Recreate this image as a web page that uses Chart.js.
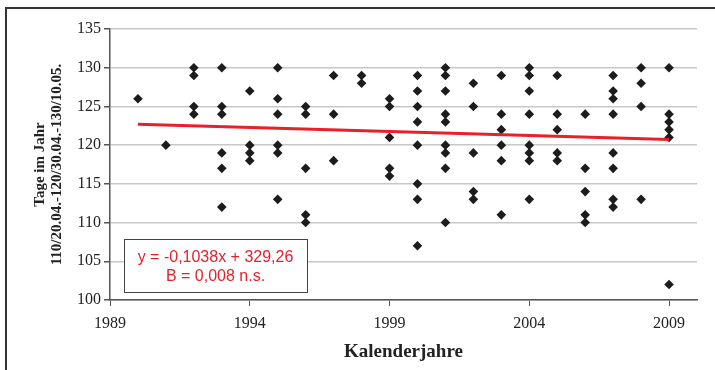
<!DOCTYPE html>
<html>
<head>
<meta charset="utf-8">
<script src="https://cdn.jsdelivr.net/npm/chart.js@4"></script>
<style>
  html, body { margin: 0; padding: 0; background: #fff; }
  #wrap { width: 715px; height: 370px; position: relative; }
</style>
</head>
<body>
<div id="wrap"><canvas id="chart" width="715" height="370"></canvas></div>
<script>
// observations: year, day number
const years = [
  1990,
  1991,
  1992, 1992, 1992, 1992,
  1993, 1993, 1993, 1993, 1993, 1993,
  1994, 1994, 1994, 1994,
  1995, 1995, 1995, 1995, 1995, 1995,
  1996, 1996, 1996, 1996, 1996,
  1997, 1997, 1997,
  1998, 1998,
  1999, 1999, 1999, 1999, 1999,
  2000, 2000, 2000, 2000, 2000, 2000, 2000, 2000,
  2001, 2001, 2001, 2001, 2001, 2001, 2001, 2001, 2001,
  2002, 2002, 2002, 2002, 2002,
  2003, 2003, 2003, 2003, 2003, 2003,
  2004, 2004, 2004, 2004, 2004, 2004, 2004, 2004,
  2005, 2005, 2005, 2005, 2005,
  2006, 2006, 2006, 2006, 2006,
  2007, 2007, 2007, 2007, 2007, 2007, 2007, 2007,
  2008, 2008, 2008, 2008,
  2009, 2009, 2009, 2009, 2009, 2009
];
const days = [
  126,
  120,
  130, 129, 125, 124,
  130, 125, 124, 119, 117, 112,
  127, 120, 119, 118,
  130, 126, 124, 120, 119, 113,
  125, 124, 117, 111, 110,
  129, 124, 118,
  129, 128,
  126, 125, 121, 117, 116,
  129, 127, 125, 123, 120, 115, 113, 107,
  130, 129, 127, 124, 123, 120, 119, 117, 110,
  128, 125, 119, 114, 113,
  129, 124, 122, 120, 118, 111,
  130, 129, 127, 124, 120, 119, 118, 113,
  129, 124, 122, 119, 118,
  124, 117, 114, 111, 110,
  129, 127, 126, 124, 119, 117, 113, 112,
  130, 128, 125, 113,
  130, 124, 123, 122, 121, 102
];

// linear trend endpoints
const trendYears = [1990, 2009];
const trendDays = [122.70, 120.73];

const xTicks = [1989, 1994, 1999, 2004, 2009];
const eqLines = ['y = -0,1038x + 329,26', 'B = 0,008 n.s.'];

const points = years.map((y, i) => ({ x: y, y: days[i] }));
const trend = trendYears.map((y, i) => ({ x: y, y: trendDays[i] }));

const frame = {
  id: 'frame',
  beforeDraw(chart) {
    const ctx = chart.ctx;
    ctx.save();
    ctx.strokeStyle = '#333';
    ctx.lineWidth = 2;
    ctx.beginPath();
    ctx.moveTo(6, 372);
    ctx.lineTo(6, 8);
    ctx.lineTo(716, 8);
    ctx.stroke();
    ctx.restore();
  },
  afterDraw(chart) {
    const ctx = chart.ctx;
    const a = chart.chartArea;
    ctx.save();
    // equation box
    const bx = a.left + 14, by = a.top + 210, bw = 183, bh = 53;
    ctx.fillStyle = '#fff';
    ctx.fillRect(bx, by, bw, bh);
    ctx.strokeStyle = '#444';
    ctx.lineWidth = 1;
    ctx.strokeRect(bx + 0.5, by + 0.5, bw, bh);
    ctx.fillStyle = '#e8202a';
    ctx.font = '16px "Liberation Sans", Arial, sans-serif';
    ctx.textAlign = 'center';
    ctx.textBaseline = 'middle';
    ctx.fillText(eqLines[0], bx + bw / 2, by + 19);
    ctx.fillText(eqLines[1], bx + bw / 2, by + 38);
    ctx.restore();
  }
};

const ctx = document.getElementById('chart').getContext('2d');
new Chart(ctx, {
  type: 'scatter',
  data: {
    datasets: [
      {
        label: 'Tage',
        data: points,
        pointStyle: 'rectRot',
        pointRadius: 4.8,
        pointBorderWidth: 0,
        backgroundColor: '#1c1c1c',
        borderColor: '#1c1c1c',
        order: 2
      },
      {
        label: 'Trend',
        type: 'line',
        data: trend,
        borderColor: '#e8202a',
        borderWidth: 3,
        pointRadius: 0,
        fill: false,
        order: 1
      }
    ]
  },
  options: {
    responsive: false,
    animation: false,
    layout: { padding: { top: 29, right: 18, left: 0, bottom: 0 } },
    plugins: {
      legend: { display: false },
      tooltip: { enabled: false }
    },
    scales: {
      x: {
        type: 'linear',
        min: 1989,
        max: 2010,
        afterBuildTicks: (s) => { s.ticks = xTicks.map(v => ({ value: v })); },
        afterFit: (s) => { s.height = 70; },
        grid: { drawOnChartArea: false, tickLength: 6, tickColor: '#555' },
        border: { color: '#555', width: 1.5 },
        ticks: {
          color: '#222',
          padding: 8,
          maxRotation: 0,
          font: { family: '"Liberation Serif", "Times New Roman", serif', size: 16 },
          callback: (v) => String(v)
        },
        title: {
          display: true,
          text: 'Kalenderjahre',
          color: '#222',
          padding: { top: 0, bottom: 7 },
          font: { family: '"Liberation Serif", "Times New Roman", serif', size: 19, weight: 'bold' }
        }
      },
      y: {
        min: 100,
        max: 135,
        afterFit: (s) => { s.width = 110; },
        ticks: {
          stepSize: 5,
          color: '#222',
          padding: 3,
          font: { family: '"Liberation Serif", "Times New Roman", serif', size: 16 }
        },
        grid: { color: '#c8c8c8', lineWidth: 1.5, tickLength: 6, tickColor: '#555' },
        border: { color: '#555', width: 1.5 },
        title: {
          display: true,
          text: ['Tage im Jahr', '110/20.04.-120/30.04.-130/10.05.'],
          color: '#222',
          padding: { top: 31, bottom: 0 },
          font: { family: '"Liberation Serif", "Times New Roman", serif', size: 15, weight: 'bold', lineHeight: 1.15 }
        }
      }
    }
  },
  plugins: [frame]
});
</script>
</body>
</html>
